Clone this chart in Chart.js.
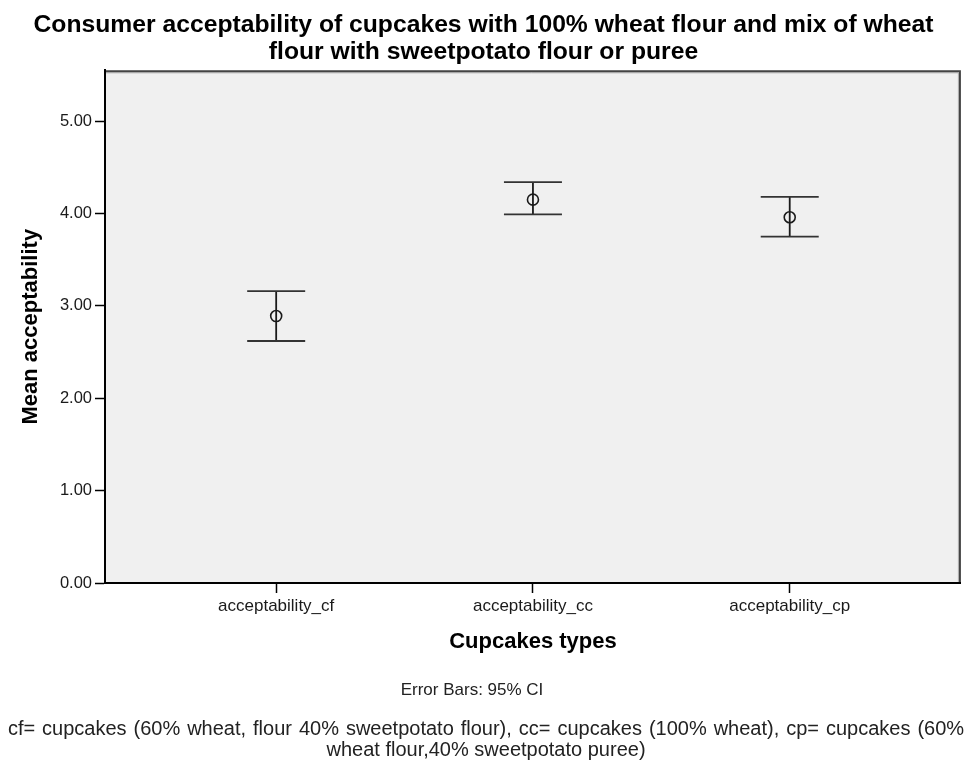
<!DOCTYPE html>
<html>
<head>
<meta charset="utf-8">
<script src="https://cdn.jsdelivr.net/npm/chart.js@4.4.1/dist/chart.umd.min.js"></script>
<style>
  body { margin: 0; background: #fff; }
  #wrap { position: relative; width: 968px; height: 762px; }
  .note { position: absolute; width: 968px; text-align: center;
          font-family: "Liberation Sans", Arial, sans-serif; color: #222; }
</style>
</head>
<body>
<div id="wrap">
  <canvas id="myChart" width="968" height="762"></canvas>
  <div class="note" style="left:-12px; top:679px; font-size:17px; line-height:22px;">Error Bars: 95% CI</div>
  <div class="note" style="left:2px; top:718px; font-size:20px; line-height:21px;"><span style="word-spacing:1.4px;">cf= cupcakes (60% wheat, flour 40% sweetpotato flour), cc= cupcakes (100% wheat), cp= cupcakes (60%</span><br>wheat flour,40% sweetpotato puree)</div>
</div>
<script>
const categories = ["acceptability_cf", "acceptability_cc", "acceptability_cp"];
const means = [2.89, 4.15, 3.96];
const ciLow = [2.62, 3.99, 3.75];
const ciHigh = [3.16, 4.34, 4.18];
const yTicks = [0, 1, 2, 3, 4, 5];

const fontFamily = "'Liberation Sans', Arial, sans-serif";

// grey plot background with the darker frame on top/right
const plotBg = {
  id: "plotBg",
  beforeDraw: (chart) => {
    const { ctx, chartArea: a } = chart;
    ctx.save();
    ctx.fillStyle = "#f0f0f0";
    ctx.fillRect(a.left, a.top, a.right - a.left, a.bottom - a.top);
    ctx.strokeStyle = "#b5b5b5";
    ctx.lineWidth = 1;
    ctx.beginPath();
    ctx.moveTo(a.left, a.top + 2.5);
    ctx.lineTo(a.right - 2.5, a.top + 2.5);
    ctx.lineTo(a.right - 2.5, a.bottom);
    ctx.stroke();
    ctx.strokeStyle = "#444";
    ctx.lineWidth = 2;
    ctx.beginPath();
    ctx.moveTo(a.left, a.top + 1);
    ctx.lineTo(a.right - 1, a.top + 1);
    ctx.lineTo(a.right - 1, a.bottom);
    ctx.stroke();
    ctx.restore();
  },
};

// 95% CI whiskers, drawn through the scales
const errorBars = {
  id: "errorBars",
  afterDatasetsDraw: (chart) => {
    const { ctx } = chart;
    const x = chart.scales.x;
    const y = chart.scales.y;
    const cap = 29;
    ctx.save();
    ctx.lineWidth = 1.8;
    categories.forEach((c, i) => {
      const px = x.getPixelForValue(i);
      const top = y.getPixelForValue(ciHigh[i]);
      const bot = y.getPixelForValue(ciLow[i]);
      ctx.strokeStyle = "#1a1a1a";
      ctx.beginPath();
      ctx.moveTo(px, top);
      ctx.lineTo(px, bot);
      ctx.stroke();
      ctx.strokeStyle = "#333";
      ctx.beginPath();
      ctx.moveTo(px - cap, top);
      ctx.lineTo(px + cap, top);
      ctx.moveTo(px - cap, bot);
      ctx.lineTo(px + cap, bot);
      ctx.stroke();
    });
    ctx.restore();
  },
};

const config = {
  type: "scatter",
  data: {
    datasets: [
      {
        label: "Mean acceptability",
        data: means.map((m, i) => ({ x: i, y: m })),
        pointStyle: "circle",
        pointRadius: 5.5,
        borderColor: "#1a1a1a",
        backgroundColor: "rgba(0,0,0,0)",
        borderWidth: 1.6,
      },
    ],
  },
  options: {
    responsive: false,
    animation: false,
    layout: { padding: { top: 0, right: 1, bottom: 0, left: 0 } },
    plugins: {
      legend: { display: false },
      tooltip: { enabled: false },
      title: {
        display: true,
        text: [
          "Consumer acceptability of cupcakes with 100% wheat flour and mix of wheat",
          "flour with sweetpotato flour or puree",
        ],
        color: "#000",
        font: { family: fontFamily, size: 24.7, weight: "bold", lineHeight: 1.08 },
        padding: { top: 12, bottom: 5 },
      },
    },
    scales: {
      x: {
        type: "linear",
        min: -2 / 3,
        max: 8 / 3,
        afterBuildTicks: (scale) => {
          scale.ticks = categories.map((c, i) => ({ value: i }));
        },
        afterFit: (scale) => {
          scale.height = 179;
          scale.paddingLeft = 0;
          scale.paddingRight = 0;
        },
        ticks: {
          callback: (v) => categories[v],
          color: "#1a1a1a",
          padding: 3,
          maxRotation: 0,
          font: { family: fontFamily, size: 17 },
        },
        grid: { drawOnChartArea: false, tickLength: 10, color: "#000", tickWidth: 1.5 },
        border: { color: "#000", width: 2 },
        title: {
          display: true,
          text: "Cupcakes types",
          color: "#000",
          font: { family: fontFamily, size: 22, weight: "bold", lineHeight: 1.2 },
          padding: { top: 0, bottom: 107 },
        },
      },
      y: {
        min: 0,
        max: 5.55,
        afterBuildTicks: (scale) => {
          scale.ticks = yTicks.map((v) => ({ value: v }));
        },
        afterFit: (scale) => {
          scale.width = 105;
          scale.paddingTop = 0;
          scale.paddingBottom = 0;
        },
        ticks: {
          callback: (v) => v.toFixed(2),
          color: "#1a1a1a",
          padding: 3,
          font: { family: fontFamily, size: 16.5 },
        },
        grid: { drawOnChartArea: false, tickLength: 10, color: "#000", tickWidth: 1.5 },
        border: { color: "#000", width: 2 },
        title: {
          display: true,
          text: "Mean acceptability",
          color: "#000",
          font: { family: fontFamily, size: 22, weight: "bold", lineHeight: 1.2 },
          padding: { top: 18, bottom: 0 },
        },
      },
    },
  },
  plugins: [plotBg, errorBars],
};

window.onload = () => {
  const myChart = new Chart(document.getElementById("myChart"), config);
};
</script>
</body>
</html>
